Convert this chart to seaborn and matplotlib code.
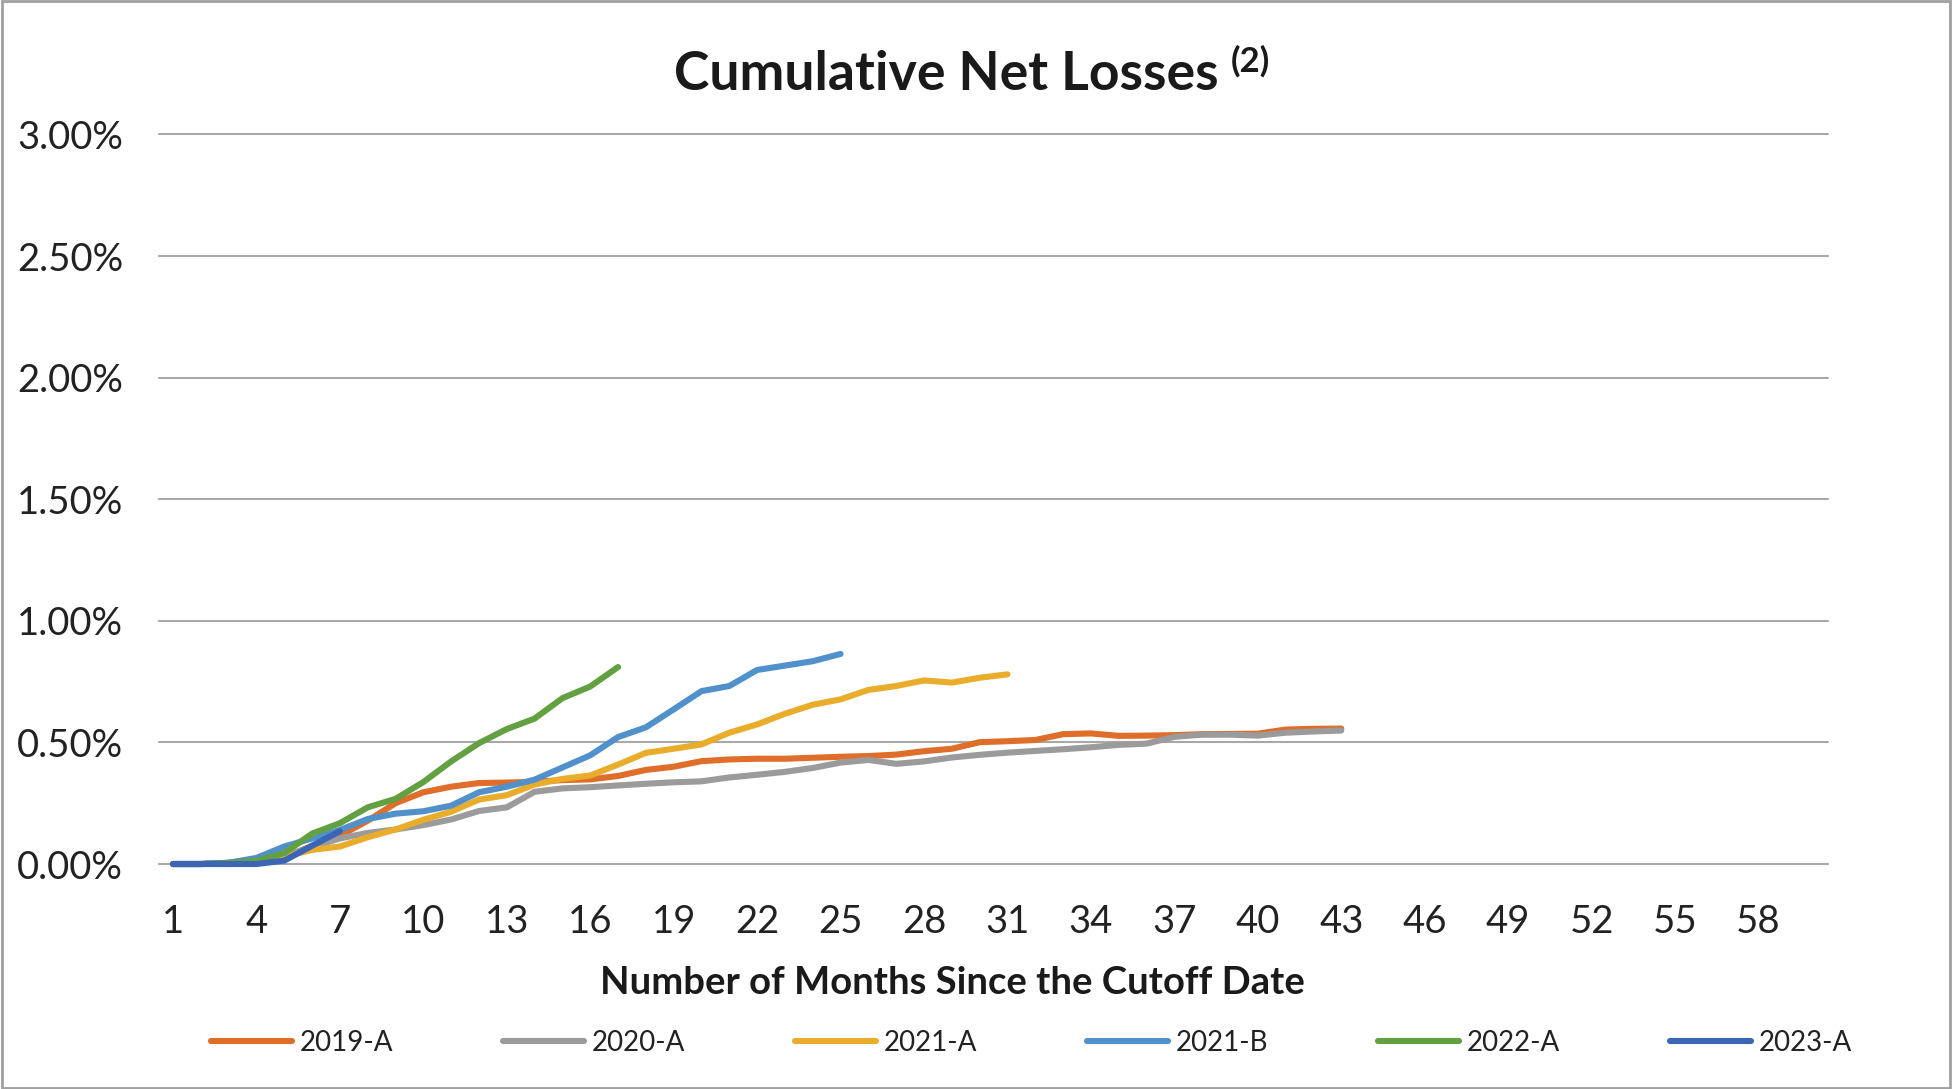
import numpy as np
import pandas as pd
import matplotlib
matplotlib.use("Agg")
import matplotlib.pyplot as plt
import seaborn as sns
from matplotlib.ticker import FuncFormatter
from matplotlib.patches import Rectangle

# cumulative net losses, in percent, by month since cutoff
series_names = ['2019-A', '2020-A', '2021-A', '2021-B', '2022-A', '2023-A']
loss_2019a = [0, 0, 0.005, 0.018, 0.027, 0.075, 0.116, 0.178, 0.25, 0.295, 0.318, 0.333, 0.335, 0.338,
              0.345, 0.348, 0.362, 0.387, 0.400, 0.423, 0.430, 0.433, 0.433, 0.437, 0.441, 0.444, 0.450,
              0.464, 0.474, 0.501, 0.505, 0.510, 0.534, 0.537, 0.527, 0.528, 0.530, 0.534, 0.535, 0.536,
              0.553, 0.556, 0.557]
loss_2020a = [0, 0, 0.005, 0.018, 0.034, 0.07, 0.105, 0.128, 0.142, 0.16, 0.183, 0.218, 0.233, 0.297,
              0.311, 0.316, 0.323, 0.330, 0.336, 0.340, 0.356, 0.367, 0.379, 0.395, 0.417, 0.428, 0.412,
              0.422, 0.438, 0.449, 0.458, 0.465, 0.472, 0.480, 0.490, 0.495, 0.523, 0.532, 0.532, 0.528,
              0.540, 0.545, 0.549]
loss_2021a = [0, 0, 0, 0.005, 0.03, 0.058, 0.072, 0.11, 0.142, 0.182, 0.215, 0.265, 0.283, 0.327, 0.350,
              0.364, 0.409, 0.457, 0.474, 0.492, 0.540, 0.574, 0.618, 0.655, 0.677, 0.716, 0.732, 0.755,
              0.746, 0.766, 0.780]
loss_2021b = [0, 0, 0.005, 0.025, 0.072, 0.105, 0.14, 0.185, 0.207, 0.217, 0.24, 0.295, 0.318, 0.347,
              0.397, 0.447, 0.522, 0.562, 0.636, 0.711, 0.732, 0.798, 0.816, 0.834, 0.864]
loss_2022a = [0, 0, 0.004, 0.013, 0.045, 0.125, 0.168, 0.233, 0.268, 0.337, 0.422, 0.497, 0.555, 0.598,
              0.682, 0.730, 0.810]
loss_2023a = [0, 0, 0, 0, 0.014, 0.075, 0.135]
x_ticks = list(range(1, 61, 3))
y_ticks = [0, 0.5, 1.0, 1.5, 2.0, 2.5, 3.0]

colors = ['#DF6E2B', '#9B9B9B', '#E9AD2B', '#5090CB', '#62A042', '#3B66B6']

all_losses = [loss_2019a, loss_2020a, loss_2021a, loss_2021b, loss_2022a, loss_2023a]
frames = []
for name, vals in zip(series_names, all_losses):
    frames.append(pd.DataFrame({'month': np.arange(1, len(vals) + 1), 'loss': vals, 'series': name}))
df = pd.concat(frames, ignore_index=True)

sns.set_style("white")
plt.rcParams['font.family'] = ['Lato', 'DejaVu Sans']

fig = plt.figure(figsize=(19.52, 10.89), dpi=100)
ax = fig.add_axes([0.0815, 0.2066, 0.855, 0.6699])

sns.lineplot(data=df, x='month', y='loss', hue='series', palette=colors, hue_order=series_names,
             linewidth=4.4, ax=ax, legend=True)
for ln in ax.lines:
    ln.set_clip_on(False)
    ln.set_solid_capstyle('round')
    ln.set_solid_joinstyle('round')

ax.set_xlim(0.5, 60.5)
ax.set_ylim(0, 3.0)
ax.set_xticks(x_ticks)
ax.set_yticks(y_ticks)
ax.yaxis.set_major_formatter(FuncFormatter(lambda v, p: f'{v:.2f}%'))
ax.tick_params(axis='y', labelsize=27.5, pad=26, length=0, colors='#222222')
ax.tick_params(axis='x', labelsize=27.5, pad=29, length=0, colors='#222222')
ax.grid(axis='y', color='#A8A8A8', linewidth=1.5)
ax.set_axisbelow(True)
for gl in ax.get_ygridlines():
    gl.set_clip_on(False)
for s in ax.spines.values():
    s.set_visible(False)
ax.set_xlabel('')
ax.set_ylabel('')

# title with superscript note
t = fig.text(0.4847, 0.917, 'Cumulative Net Losses', ha='center', va='baseline',
             fontsize=38.5, fontweight='bold', color='#1A1A1A')
ax.annotate('(2)', xy=(1, 1), xycoords=t, xytext=(9, 4), textcoords='offset points',
            ha='left', va='top', fontsize=25, fontweight='bold', color='#1A1A1A')

fig.text(0.488, 0.097, 'Number of Months Since the Cutoff Date', ha='center', va='center',
         fontsize=27.5, fontweight='bold', color='#1A1A1A')

handles, labels = ax.get_legend_handles_labels()
ax.get_legend().remove()
leg = fig.legend(handles, labels, loc='center', bbox_to_anchor=(0.5285, 0.0425), ncol=6,
                 frameon=False, fontsize=20, handlelength=2.9, handletextpad=0.3,
                 columnspacing=3.95)
for h in leg.get_lines():
    h.set_linewidth(4.4)
for txt in leg.get_texts():
    txt.set_color('#222222')

fig.add_artist(Rectangle((0.0008, 0.0012), 0.9984, 0.9976, transform=fig.transFigure,
                         fill=False, edgecolor='#A0A0A0', linewidth=2))

fig.savefig('out.png', dpi=100)
